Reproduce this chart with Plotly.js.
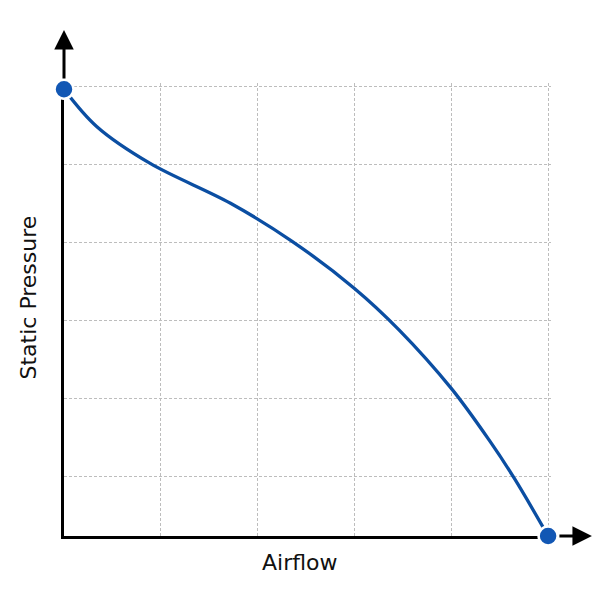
<!DOCTYPE html>
<html>
<head>
<meta charset="utf-8">
<script src="https://cdn.plot.ly/plotly-3.0.1.min.js"></script>
<style>
  html, body { margin: 0; padding: 0; background: #fff; }
  #chart { width: 600px; height: 600px; }
</style>
</head>
<body>
<div id="chart"></div>
<script>
// fan curve (grid units)
var airflow = [0, 0.34, 0.89, 1.72, 2.36, 3.0, 3.46, 4.0, 4.39, 4.65, 5.0];
var pressure = [5.72, 5.24, 4.77, 4.26, 3.77, 3.17, 2.64, 1.89, 1.23, 0.74, 0];

var xTitle = 'Airflow';
var yTitle = 'Static Pressure';

var endX = [airflow[0], airflow[airflow.length - 1]];
var endY = [pressure[0], pressure[pressure.length - 1]];

var traces = [{
    x: airflow,
    y: pressure,
    mode: 'lines',
    line: { color: '#0b4ea2', width: 3.3, shape: 'spline', smoothing: 1 },
    hoverinfo: 'skip'
}, {
    x: endX,
    y: endY,
    mode: 'markers',
    marker: { color: '#1257b4', size: 19, line: { color: '#fff', width: 2.5 } },
    cliponaxis: false,
    hoverinfo: 'skip'
}];

var gridStyle = {
    showgrid: true,
    gridcolor: '#bdbdbd',
    gridwidth: 1,
    griddash: '3px,2px',
    zeroline: false,
    showticklabels: false,
    ticks: '',
    showline: true,
    linecolor: '#000',
    linewidth: 3,
    layer: 'below traces',
    fixedrange: true
};

var layout = {
    width: 600,
    height: 600,
    showlegend: false,
    plot_bgcolor: '#fff',
    paper_bgcolor: '#fff',
    margin: { l: 64, r: 49, t: 83, b: 64 },
    // ranges run a touch past the last grid lines so the edge lines are drawn
    xaxis: Object.assign({}, gridStyle, { range: [0, 5.03], tick0: 0, dtick: 1 }),
    yaxis: Object.assign({}, gridStyle, { range: [0, 5.80], tick0: 0.76, dtick: 1 }),
    annotations: [
        // arrow heads continuing the axes
        { xref: 'paper', yref: 'paper', x: 0, y: 1.117, ax: 0, ay: 50,
          showarrow: true, arrowhead: 2, arrowsize: 1.3, arrowwidth: 3, arrowcolor: '#000', text: '' },
        { xref: 'paper', yref: 'paper', x: 1.084, y: 0, ax: -34, ay: 0,
          showarrow: true, arrowhead: 2, arrowsize: 1.3, arrowwidth: 3, arrowcolor: '#000', text: '' },
        { xref: 'paper', yref: 'paper', x: 0.4836, y: -0.0574, showarrow: false,
          text: xTitle, xanchor: 'center', yanchor: 'middle',
          font: { family: 'DejaVu Sans', size: 22, color: '#111' } },
        { xref: 'paper', yref: 'paper', x: -0.0739, y: 0.5265, showarrow: false,
          text: yTitle, textangle: -90, xanchor: 'center', yanchor: 'middle',
          font: { family: 'DejaVu Sans', size: 22, color: '#111' } }
    ]
};

Plotly.newPlot('chart', traces, layout, { displayModeBar: false, staticPlot: true });
</script>
</body>
</html>
